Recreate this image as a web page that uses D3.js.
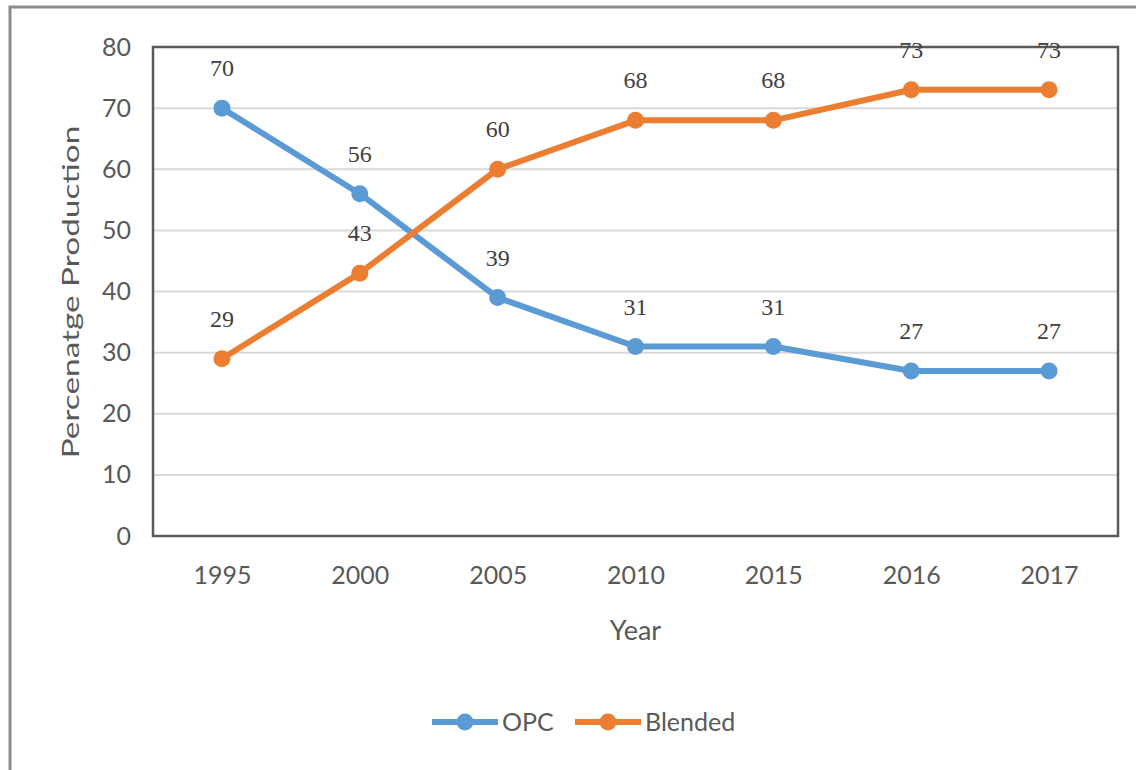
<!DOCTYPE html>
<html>
<head>
<meta charset="utf-8">
<script src="https://cdn.jsdelivr.net/npm/d3@7"></script>
<style>
  html, body { margin: 0; padding: 0; background: #fff; }
  svg { display: block; }
</style>
</head>
<body>
<div id="chart"></div>
<script>
// chart data
const years = ["1995", "2000", "2005", "2010", "2015", "2016", "2017"];
const opc = [70, 56, 39, 31, 31, 27, 27];
const blended = [29, 43, 60, 68, 68, 73, 73];
const yTicks = [0, 10, 20, 30, 40, 50, 60, 70, 80];
const seriesNames = ["OPC", "Blended"];
const seriesColors = ["#5b9bd5", "#ed7d31"];

const width = 1136, height = 770;
const plot = {left: 153, right: 1118, top: 47, bottom: 536};

const svg = d3.select("#chart").append("svg")
  .attr("width", width)
  .attr("height", height);

// outer frame (only top and left edges are visible in the picture)
svg.append("rect")
  .attr("x", 10).attr("y", 7)
  .attr("width", 1140).attr("height", 790)
  .attr("fill", "none")
  .attr("stroke", "#8c8c8c")
  .attr("stroke-width", 3);

const x = d3.scalePoint()
  .domain(years)
  .range([plot.left, plot.right])
  .padding(0.5);

const y = d3.scaleLinear()
  .domain([0, 80])
  .range([plot.bottom, plot.top]);

// gridlines
svg.append("g")
  .selectAll("line")
  .data(yTicks.filter(d => d > 0 && d < 80))
  .join("line")
  .attr("x1", plot.left).attr("x2", plot.right)
  .attr("y1", d => y(d)).attr("y2", d => y(d))
  .attr("stroke", "#d9d9d9")
  .attr("stroke-width", 2);

// plot border
svg.append("rect")
  .attr("x", plot.left).attr("y", plot.top)
  .attr("width", plot.right - plot.left)
  .attr("height", plot.bottom - plot.top)
  .attr("fill", "none")
  .attr("stroke", "#595959")
  .attr("stroke-width", 2.5);

// y axis labels
const yAxis = svg.append("g")
  .attr("transform", `translate(${plot.left},0)`)
  .call(d3.axisLeft(y).tickValues(yTicks).tickSize(0).tickPadding(22));
yAxis.select(".domain").remove();
yAxis.selectAll("text")
  .attr("font-family", "Lato, 'Open Sans', sans-serif")
  .attr("font-size", 25)
  .attr("fill", "#595959");

// x axis labels
const xAxis = svg.append("g")
  .attr("transform", `translate(0,${plot.bottom})`)
  .call(d3.axisBottom(x).tickSize(0).tickPadding(30));
xAxis.select(".domain").remove();
xAxis.selectAll("text")
  .attr("font-family", "Lato, 'Open Sans', sans-serif")
  .attr("font-size", 25)
  .attr("fill", "#595959");

// axis titles
svg.append("text")
  .attr("x", (plot.left + plot.right) / 2)
  .attr("y", 640)
  .attr("text-anchor", "middle")
  .attr("font-family", "Lato, 'Open Sans', sans-serif")
  .attr("font-size", 27)
  .attr("fill", "#595959")
  .text("Year");

// the source picture is stretched vertically, so the rotated title is long
svg.append("text")
  .attr("transform", `translate(79,292) rotate(-90) scale(1.45,1)`)
  .attr("text-anchor", "middle")
  .attr("font-family", "Lato, 'Open Sans', sans-serif")
  .attr("font-size", 23)
  .attr("fill", "#595959")
  .text("Percenatge Production");

// series
const series = [opc, blended];
const line = d3.line()
  .x((d, i) => x(years[i]))
  .y(d => y(d));

series.forEach((vals, s) => {
  svg.append("path")
    .datum(vals)
    .attr("fill", "none")
    .attr("stroke", seriesColors[s])
    .attr("stroke-width", 6)
    .attr("stroke-linejoin", "round")
    .attr("d", line);

  svg.append("g")
    .selectAll("circle")
    .data(vals)
    .join("circle")
    .attr("cx", (d, i) => x(years[i]))
    .attr("cy", d => y(d))
    .attr("r", 8.5)
    .attr("fill", seriesColors[s]);

  svg.append("g")
    .selectAll("text")
    .data(vals)
    .join("text")
    .attr("x", (d, i) => x(years[i]))
    .attr("y", d => y(d) - 32)
    .attr("text-anchor", "middle")
    .attr("font-family", "'Liberation Serif', 'Times New Roman', serif")
    .attr("font-size", 24)
    .attr("fill", "#404040")
    .text(d => d);
});

// legend
const legendItems = [
  {name: seriesNames[0], color: seriesColors[0], x0: 432},
  {name: seriesNames[1], color: seriesColors[1], x0: 575}
];
const legend = svg.append("g").attr("transform", "translate(0,722)");
legendItems.forEach(d => {
  legend.append("line")
    .attr("x1", d.x0).attr("x2", d.x0 + 66)
    .attr("y1", 0).attr("y2", 0)
    .attr("stroke", d.color)
    .attr("stroke-width", 6);
  legend.append("circle")
    .attr("cx", d.x0 + 33).attr("cy", 0)
    .attr("r", 8.5)
    .attr("fill", d.color);
  legend.append("text")
    .attr("x", d.x0 + 70).attr("y", 0)
    .attr("dy", "0.35em")
    .attr("font-family", "Lato, 'Open Sans', sans-serif")
    .attr("font-size", 25)
    .attr("fill", "#595959")
    .text(d.name);
});
</script>
</body>
</html>
